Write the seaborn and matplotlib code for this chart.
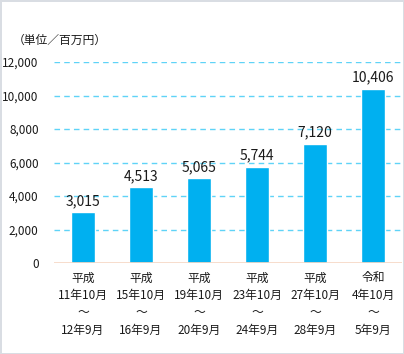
import seaborn as sns
import matplotlib
matplotlib.use("Agg")
import matplotlib.pyplot as plt
import pandas as pd

# data
periods = ["平成\n11年10月\n～\n12年9月", "平成\n15年10月\n～\n16年9月", "平成\n19年10月\n～\n20年9月",
           "平成\n23年10月\n～\n24年9月", "平成\n27年10月\n～\n28年9月", "令和\n4年10月\n～\n5年9月"]
amounts = [3015, 4513, 5065, 5744, 7120, 10406]
yticks = [0, 2000, 4000, 6000, 8000, 10000, 12000]

sns.set_style("white")
plt.rcParams['font.family'] = ['Noto Sans CJK JP', 'DejaVu Sans']

df = pd.DataFrame({"period": periods, "amount": amounts})

fig = plt.figure(figsize=(4.04, 3.54), dpi=100)
fig.patch.set_edgecolor('#d9dde3')
fig.patch.set_linewidth(2)
ax = fig.add_axes([54/404, 91/354, 348/404, 201/354])

sns.barplot(data=df, x="period", y="amount", color="#00b0f0", saturation=1, width=0.41, ax=ax)

ax.set_ylim(0, 12000)
ax.set_yticks(yticks, labels=[f"{v:,}" for v in yticks])
for v in yticks[1:]:
    ax.axhline(v, color="#5fd3f7", linestyle=(0, (4, 3)), linewidth=1, zorder=0)
ax.axhline(0, color="#f6d7c3", linewidth=1.2, zorder=1)

for sp in ax.spines.values():
    sp.set_visible(False)
ax.tick_params(axis='both', length=0, labelsize=8.5, colors='#1a1a1a')
ax.tick_params(axis='y', pad=11)
ax.tick_params(axis='x', pad=6)
for lbl in ax.get_xticklabels():
    lbl.set_linespacing(1.45)
ax.set_xlabel("")
ax.set_ylabel("")

for i, v in enumerate(amounts):
    ax.text(i, v + 250, f"{v:,}", ha='center', va='bottom', fontsize=10, color='#1a1a1a')

fig.text(13/404, 1 - 40/354, "（単位／百万円）", fontsize=8.5, va='center', ha='left', color='#1a1a1a')

fig.savefig("out.png", dpi=100)
